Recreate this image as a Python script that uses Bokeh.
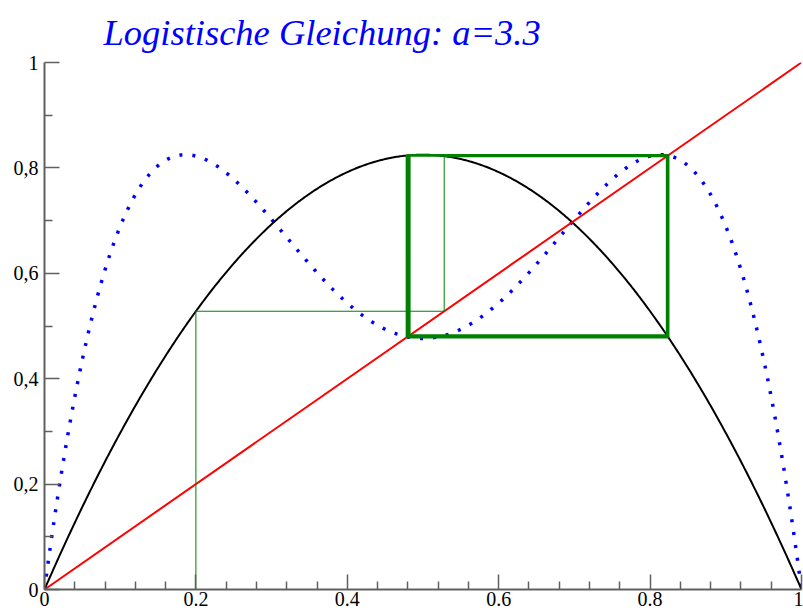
import numpy as np
from bokeh.plotting import figure
from bokeh.models import Range1d, FixedTicker, Title
from bokeh.embed import file_html
from bokeh.resources import INLINE

# Parameters of the logistic map and the starting point of the cobweb
a = 3.3
x_start = 0.2
n_steps = 40

title_text = "Logistische Gleichung: a=3.3"
x_ticks = [0, 0.2, 0.4, 0.6, 0.8, 1]
x_tick_labels = ["0", "0.2", "0.4", "0.6", "0.8", "1"]
y_ticks = [0, 0.2, 0.4, 0.6, 0.8, 1]
y_tick_labels = ["0", "0,2", "0,4", "0,6", "0,8", "1"]
x_minor = [round(0.04 * k, 2) for k in range(26) if k % 5]
y_minor = [0.1, 0.3, 0.5, 0.7, 0.9]

SERIF = "'Liberation Serif', 'Times New Roman', serif"


def logistic(x):
    return a * x * (1 - x)


xs = np.linspace(0, 1, 601)
f1 = logistic(xs)
f2 = logistic(f1)

# Cobweb path: vertical to the curve, horizontal to the diagonal
cx, cy = [x_start], [0.0]
x = x_start
for _ in range(n_steps):
    y = logistic(x)
    cx += [x, y]
    cy += [y, y]
    x = y

p = figure(
    frame_width=757, frame_height=527,
    min_border_left=44, min_border_right=2, min_border_top=60, min_border_bottom=0,
    x_range=Range1d(0, 1), y_range=Range1d(0, 1),
    output_backend="svg", toolbar_location=None,
)
p.outline_line_color = None
p.grid.visible = False
p.background_fill_color = "white"
p.border_fill_color = "white"

title = Title(
    text=title_text,
    text_font=SERIF, text_font_style="italic",
    text_font_size="36.5px", text_color="#0000ff",
    align="left", offset=59, standoff=19,
)
p.add_layout(title, "above")

for ax, ticks, minors, labels in (
    (p.xaxis[0], x_ticks, x_minor, x_tick_labels),
    (p.yaxis[0], y_ticks, y_minor, y_tick_labels),
):
    ax.ticker = FixedTicker(ticks=ticks, minor_ticks=minors)
    ax.major_label_overrides = {t: lab for t, lab in zip(ticks, labels)}
    ax.axis_line_color = "#606060"
    ax.axis_line_width = 2
    ax.major_tick_line_color = "#606060"
    ax.minor_tick_line_color = "#606060"
    ax.major_tick_line_width = 1.5
    ax.minor_tick_line_width = 1.5
    ax.major_tick_in = 15
    ax.major_tick_out = 0
    ax.minor_tick_in = 8
    ax.minor_tick_out = 0
    ax.major_label_text_font = SERIF
    ax.major_label_text_font_size = "20px"
    ax.major_label_text_color = "black"
p.xaxis.major_label_standoff = 2
p.yaxis.major_label_standoff = 6

# f(f(x)), dotted
p.line(xs, f2, line_color="#0000ff", line_width=3.5, line_dash="3 10")
# f(x)
p.line(xs, f1, line_color="black", line_width=2)
# diagonal y = x
p.line([0, 1], [0, 1], line_color="#ff0000", line_width=2)
# cobweb: first steps thin, the settled cycle heavier
p.line(cx[:4], cy[:4], line_color="#008000", line_width=1)
p.line(cx[3:], cy[3:], line_color="#008000", line_width=2.5)

open("out.html", "w").write(file_html(p, INLINE))
